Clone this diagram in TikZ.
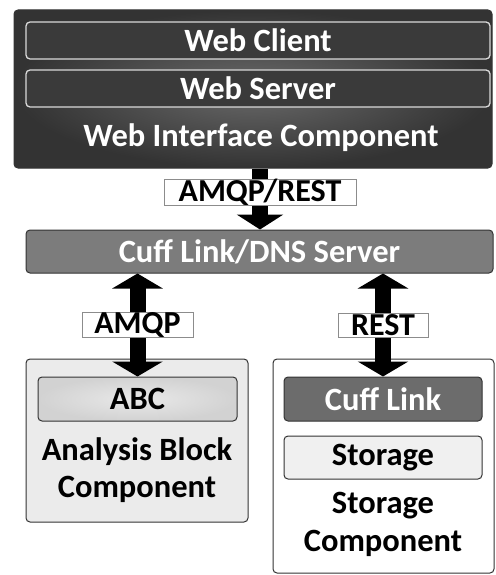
\documentclass[tikz,border=0pt]{standalone}
\usepackage{fontspec}
\setmainfont{Carlito}
\usetikzlibrary{arrows.meta}
\definecolor{dk}{HTML}{333333}
\definecolor{dkin}{HTML}{6A6A6A}
\definecolor{bar}{HTML}{3A3A3A}
\definecolor{dns}{HTML}{7C7C7C}
\definecolor{abc}{HTML}{D2D2D2}
\definecolor{cl}{HTML}{6C6C6C}
\definecolor{stor}{HTML}{F0F0F0}
\definecolor{lcomp}{HTML}{EBEBEB}
\tikzset{
  txt/.style={font=\bfseries\fontsize{32.5}{37}\selectfont, align=center},
  box/.style={draw=dk, line width=1pt, rounded corners=4pt, inner sep=0pt},
  lbl/.style={draw=black!45, fill=white, line width=0.8pt, inner sep=0pt, font=\bfseries\fontsize{32}{34}\selectfont},
  bigarrow/.style={line width=16pt, -{Triangle[width=46pt,length=15pt]}},
  dblarrow/.style={line width=16pt, {Triangle[width=50pt,length=15pt]}-{Triangle[width=50pt,length=15pt]}},
}
\begin{document}
\begin{tikzpicture}[x=1pt,y=-1pt]
\useasboundingbox (0,0) rectangle (495,575);
% top component
\node[box, inner color=dkin, outer color=dk, minimum width=478pt, minimum height=158pt] (top) at (253,89) {};
\node[box, draw=white!85!black, line width=1.3pt, fill=bar, minimum width=464pt, minimum height=37pt, text=white, txt] (client) at (258,40.5) {Web Client};
\node[box, draw=white!85!black, line width=1.3pt, fill=bar, minimum width=464pt, minimum height=37pt, text=white, txt] (server) at (258,88.5) {Web Server};
\node[txt, text=white] (wic) at (261,138) {Web Interface Component};
% DNS server
\node[box, fill=dns, minimum width=467pt, minimum height=43pt, text=white, txt] (dns) at (259.5,251.5) {Cuff Link/DNS Server};
% bottom components
\node[box, fill=lcomp, minimum width=222pt, minimum height=163pt] (left) at (137,440.5) {};
\node[box, fill=white, minimum width=221pt, minimum height=214pt] (right) at (383.5,466) {};
\node[box, inner color=abc!50!white, outer color=abc, minimum width=199pt, minimum height=44pt, txt] (abc) at (137.5,399) {ABC};
\node[txt] (abct) at (137,470) {Analysis Block\\Component};
\node[box, fill=cl, minimum width=198pt, minimum height=44pt, text=white, txt] (cl) at (383,399) {Cuff Link};
\node[box, fill=stor, minimum width=198pt, minimum height=43pt, txt] (stor) at (383,457.5) {Storage};
\node[txt, font=\bfseries\fontsize{32.5}{38}\selectfont] (stort) at (383,524) {Storage\\Component};
% label anchors
\coordinate (a1) at (260,192.5);
\coordinate (a2) at (137.5,325);
\coordinate (a3) at (383,325);
% arrows
\draw[bigarrow] (a1 |- top.south) -- (a1 |- dns.north);
\draw[dblarrow] (a2 |- dns.south) -- (a2 |- abc.north);
\draw[dblarrow] (a3 |- dns.south) -- (a3 |- cl.north);
% labels
\node[lbl, minimum width=192pt, minimum height=25pt] (l1) at (a1) {AMQP/REST};
\node[lbl, minimum width=111pt, minimum height=24pt] (l2) at (a2) {AMQP};
\node[lbl, minimum width=90pt, minimum height=24pt] (l3) at (a3) {REST};
\end{tikzpicture}
\end{document}
